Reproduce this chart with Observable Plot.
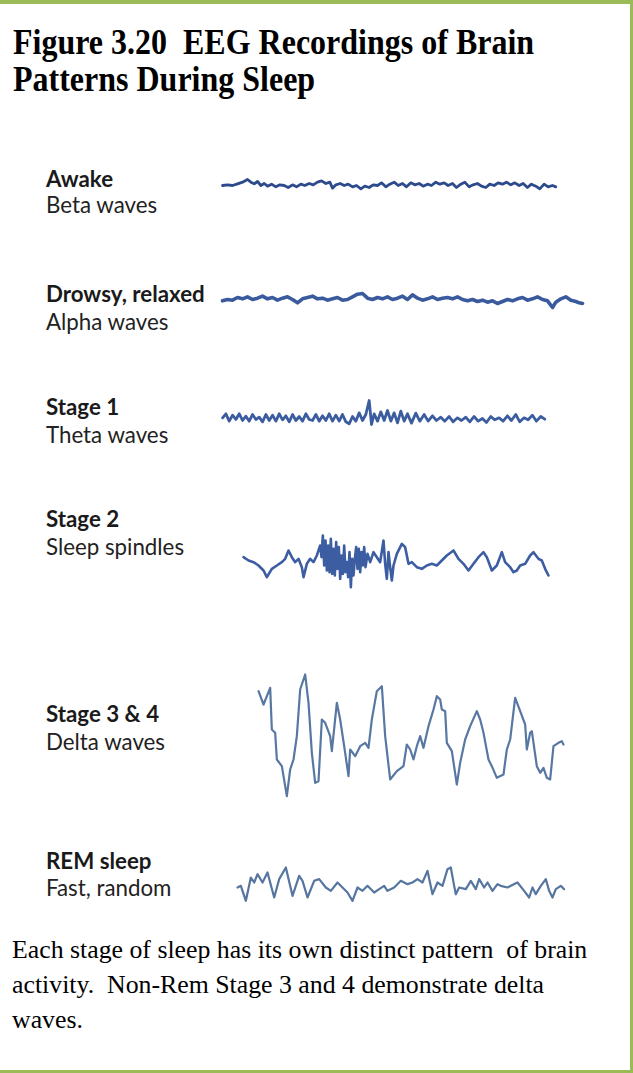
<!DOCTYPE html>
<html><head><meta charset="utf-8">
<script src="https://cdn.jsdelivr.net/npm/d3@7"></script>
<script src="https://cdn.jsdelivr.net/npm/@observablehq/plot@0.6"></script>
<style>
html,body{margin:0;padding:0;background:#fff;}
#fig{position:relative;width:633px;height:1073px;overflow:hidden;background:#fff;}
#frame{position:absolute;left:0;top:0;width:633px;height:1073px;box-sizing:border-box;border-top:4px solid #9bbb59;border-right:3px solid #9bbb59;border-bottom:3px solid #9bbb59;}
.wave{position:absolute;}
#txt{position:absolute;left:0;top:0;}
</style></head>
<body><div id="fig"><div id="frame"></div></div>
<script>
// ---- Text content ----
const titleLines = ["Figure 3.20  EEG Recordings of Brain", "Patterns During Sleep"];
const stages = ["Awake", "Drowsy, relaxed", "Stage 1", "Stage 2", "Stage 3 & 4", "REM sleep"];
const waveNames = ["Beta waves", "Alpha waves", "Theta waves", "Sleep spindles", "Delta waves", "Fast, random"];
const captionLines = [
  "Each stage of sleep has its own distinct pattern  of brain",
  "activity.  Non-Rem Stage 3 and 4 demonstrate delta",
  "waves."
];

// ---- Traced EEG samples: [time, amplitude] (arbitrary units) ----
const awake = [[0,0],[15,2],[30,0],[45,5],[60,10],[75,18],[85,10],[95,5],[105,12],[115,0],[125,6],[135,-2],[147,4],[160,-4],[172,2],[185,0],[197,-6],[210,2],[222,-4],[235,4],[247,0],[260,6],[272,2],[285,10],[297,14],[310,6],[322,10],[330,-8],[340,2],[353,6],[365,0],[377,4],[390,-4],[402,0],[415,-10],[427,-2],[440,-6],[452,2],[465,0],[477,8],[490,-4],[502,4],[515,10],[527,0],[540,6],[552,-4],[565,8],[577,2],[590,6],[602,-2],[615,4],[627,0],[640,10],[652,4],[665,8],[677,0],[690,6],[702,-6],[715,4],[727,10],[740,-4],[752,2],[765,6],[777,-2],[790,-6],[802,4],[815,0],[827,8],[840,4],[852,10],[865,2],[877,8],[890,0],[902,6],[915,-6],[927,4],[940,-2],[952,-10],[965,4],[977,-4],[990,0],[1000,-4]];

const drowsy = [[0,-4],[15,0],[30,-2],[45,6],[60,2],[75,8],[90,0],[105,4],[120,10],[135,2],[150,6],[165,-2],[180,4],[195,8],[210,0],[225,-10],[240,2],[255,6],[270,10],[285,2],[300,4],[315,-2],[330,2],[345,6],[360,-2],[375,0],[390,8],[405,16],[420,18],[435,4],[450,0],[465,6],[480,2],[495,8],[510,0],[525,4],[540,10],[555,0],[570,14],[585,4],[600,-2],[615,2],[630,8],[645,0],[660,4],[675,6],[690,2],[705,8],[720,0],[735,-4],[750,0],[765,-6],[780,-2],[795,-8],[810,-4],[825,-12],[840,-6],[855,0],[870,-4],[885,2],[900,6],[915,-2],[930,2],[945,8],[960,0],[975,-4],[990,-24],[1000,-8],[1015,2],[1030,8],[1045,-2],[1060,-6],[1070,-10],[1080,-12]];

const stage1 = [[0,0],[10,12],[20,-10],[30,8],[40,-5],[50,12],[60,-8],[70,5],[80,-10],[90,10],[100,-5],[110,2],[120,-12],[130,10],[140,-8],[150,8],[160,-10],[170,12],[180,-6],[190,6],[200,-12],[210,10],[220,-8],[230,4],[240,-10],[250,12],[260,-5],[270,-8],[280,10],[290,-10],[300,6],[310,-8],[320,12],[330,-10],[340,8],[350,-10],[360,10],[370,-12],[380,-18],[390,4],[400,-10],[410,15],[420,-8],[430,10],[440,52],[447,-20],[455,12],[465,-10],[475,18],[485,-8],[495,22],[505,-10],[515,15],[525,-15],[535,20],[545,-10],[555,12],[567,-16],[580,14],[592,-10],[605,10],[617,-10],[630,6],[642,-8],[655,2],[667,-10],[680,4],[692,-12],[705,0],[717,-8],[730,2],[742,-12],[755,4],[767,-10],[780,-2],[792,-14],[805,4],[817,-6],[830,0],[842,-10],[855,6],[867,-8],[880,10],[892,-12],[905,0],[917,-6],[930,8],[942,-10],[955,4],[967,-4]];

const stage2 = [[0,15],[15,5],[30,0],[45,-10],[60,-25],[70,-45],[85,-20],[100,-10],[115,0],[125,10],[135,35],[145,15],[155,0],[165,10],[175,-15],[180,-45],[190,-5],[200,10],[210,0],[220,20],[230,50],[234,15],[238,80],[242,-10],[246,65],[250,-25],[254,50],[258,-30],[262,70],[266,-35],[270,40],[274,-40],[278,60],[282,-20],[286,45],[290,-50],[294,20],[298,-35],[302,50],[306,-30],[310,0],[314,-45],[318,30],[322,-75],[326,10],[330,-40],[334,10],[338,45],[342,-20],[346,40],[350,-30],[354,30],[358,-10],[362,45],[366,-15],[372,25],[380,0],[390,30],[400,15],[410,0],[420,65],[425,-5],[430,-50],[435,30],[440,-15],[445,-55],[450,-10],[460,25],[475,55],[485,45],[495,-5],[505,0],[520,-15],[535,-20],[550,-10],[565,-5],[580,-10],[595,5],[610,20],[630,35],[645,10],[660,-5],[675,-25],[690,-5],[705,15],[720,30],[730,15],[745,-25],[760,-10],[775,30],[785,0],[800,-15],[810,-30],[820,-25],[830,-10],[845,-5],[860,20],[870,30],[885,10],[895,5],[905,-20],[915,-40]];

const delta = [[0,135],[15,95],[35,145],[40,20],[50,10],[55,-70],[70,-90],[85,-180],[95,-100],[105,-70],[115,0],[125,140],[140,185],[150,100],[160,-50],[170,-140],[180,-135],[190,50],[200,40],[215,0],[220,-45],[235,100],[245,50],[260,-50],[270,-120],[275,-40],[290,-60],[305,-30],[320,-20],[330,-35],[340,50],[355,135],[370,150],[380,0],[395,-130],[415,-105],[435,-90],[445,-25],[455,-40],[465,-70],[475,-30],[485,0],[495,-35],[510,30],[525,80],[535,120],[545,110],[550,80],[560,75],[565,-20],[580,-45],[595,-145],[605,-80],[620,-10],[635,30],[655,75],[665,50],[675,10],[690,-70],[700,-90],[715,-125],[735,-115],[745,-40],[755,-10],[770,115],[785,75],[800,35],[805,-40],[815,10],[820,15],[835,-90],[845,-110],[855,-95],[865,-125],[875,-130],[885,-30],[900,-20],[910,-15],[915,-25]];

const rem = [[0,-5],[10,0],[25,-45],[40,25],[50,10],[60,35],[75,10],[90,40],[110,-35],[125,20],[145,55],[165,-30],[185,30],[195,15],[210,-35],[230,15],[245,20],[265,-5],[280,-15],[300,10],[315,-5],[330,-20],[345,-45],[360,-5],[375,-15],[390,0],[410,-20],[425,-10],[440,0],[450,-15],[470,-5],[490,15],[510,5],[525,10],[540,20],[555,10],[570,45],[585,-25],[600,10],[615,0],[630,50],[640,55],[650,0],[655,-25],[665,-5],[685,-10],[700,15],[715,-10],[725,20],[740,-5],[750,10],[765,-15],[780,5],[790,0],[810,-5],[820,0],[840,10],[860,-15],[875,-35],[885,-5],[895,-25],[910,0],[925,20],[935,-15],[945,-35],[955,-10],[970,0],[980,-10]];

// ---- Layout (page pixels) ----
const UNITS_PER_PX = 3;
const waveLayout = [
  {data: awake,  x0: 221.7, y0: 184.5, stroke: "#2c4a8c", sw: 2.8},
  {data: drowsy, x0: 221.7, y0: 298.5, stroke: "#3a5a9e", sw: 3.6},
  {data: stage1, x0: 221.7, y0: 417,   stroke: "#3b5da0", sw: 2.8},
  {data: stage2, x0: 243.3, y0: 562,   stroke: "#3c5da2", sw: 2.6},
  {data: delta,  x0: 258.3, y0: 736,   stroke: "#5877a3", sw: 2.2},
  {data: rem,    x0: 236.7, y0: 885,   stroke: "#56759f", sw: 2.2}
];
const labelBase = [[187,213],[302,330],[415,443],[527,555],[722,750],[869,896]];

const fig = document.getElementById("fig");
const m = 4;
for (const w of waveLayout) {
  const rows = w.data.map(([t, v]) => ({t, v}));
  const [tmin, tmax] = d3.extent(rows, d => d.t);
  const [vmin, vmax] = d3.extent(rows, d => d.v);
  const width = (tmax - tmin) / UNITS_PER_PX + 2 * m;
  const height = (vmax - vmin) / UNITS_PER_PX + 2 * m;
  const svg = Plot.plot({
    width, height, margin: m,
    x: {domain: [tmin, tmax], axis: null},
    y: {domain: [vmin, vmax], axis: null},
    style: {background: "transparent", overflow: "visible"},
    marks: [Plot.line(rows, {x: "t", y: "v", stroke: w.stroke, strokeWidth: w.sw, strokeLinejoin: "round", strokeLinecap: "round"})]
  });
  const div = document.createElement("div");
  div.className = "wave";
  div.style.left = (w.x0 + tmin / UNITS_PER_PX - m) + "px";
  div.style.top = (w.y0 - vmax / UNITS_PER_PX - m) + "px";
  div.appendChild(svg);
  fig.appendChild(div);
}

// ---- Text overlay ----
const ns = "http://www.w3.org/2000/svg";
const txt = document.createElementNS(ns, "svg");
txt.setAttribute("id", "txt");
txt.setAttribute("width", 633);
txt.setAttribute("height", 1073);
fig.appendChild(txt);
function addText(str, x, y, opts) {
  const t = document.createElementNS(ns, "text");
  t.setAttribute("transform", `translate(${x},${y})` + (opts.sy ? ` scale(1,${opts.sy})` : ""));
  t.setAttribute("font-family", opts.family);
  t.setAttribute("font-size", opts.size);
  t.setAttribute("font-weight", opts.weight || "normal");
  t.setAttribute("fill", opts.fill || "#000");
  t.style.whiteSpace = "pre";
  t.textContent = str;
  txt.appendChild(t);
}
const serif = "'Liberation Serif','Times New Roman',serif";
const sans = "Lato,'Open Sans',sans-serif";
titleLines.forEach((s, i) => addText(s, 13, 54 + i * 36.5, {family: serif, size: 32, weight: "bold", sy: 1.12}));
stages.forEach((s, i) => {
  addText(s, 46, labelBase[i][0], {family: sans, size: 22.3, weight: "bold", fill: "#1a1a1a"});
  addText(waveNames[i], 46, labelBase[i][1], {family: sans, size: 22.3, fill: "#222"});
});
captionLines.forEach((s, i) => addText(s, 12, 958 + i * 35, {family: serif, size: 25.8, fill: "#000"}));
</script>
</body></html>
